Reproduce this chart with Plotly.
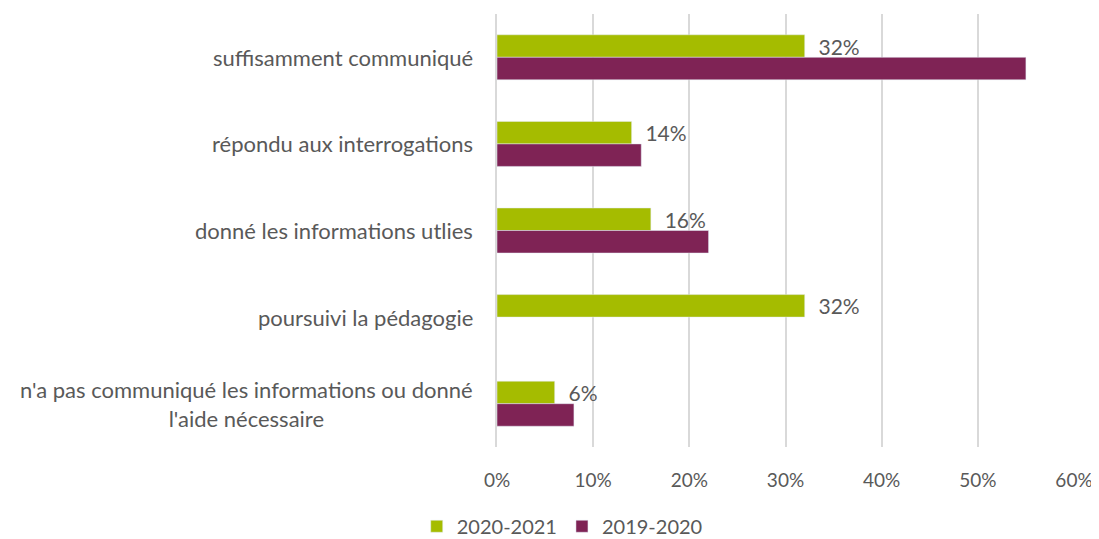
import plotly.graph_objects as go

categories = [
    "suffisamment communiqué",
    "répondu aux interrogations",
    "donné les informations utlies",
    "poursuivi la pédagogie",
    "n'a pas communiqué les informations ou donné<br>l'aide nécessaire",
]
values_2021 = [32, 14, 16, 32, 6]
values_2020 = [55, 15, 22, None, 8]
tick_vals = [0, 10, 20, 30, 40, 50, 60]
tick_text = ["0%", "10%", "20%", "30%", "40%", "50%", "60%"]

GREEN = "#A5BC00"
PURPLE = "#7F2355"
TXT = "#595959"
FONT = "Lato"
FS = 22

fig = go.Figure()
fig.add_trace(go.Bar(
    y=categories, x=values_2021, orientation="h", name="2020-2021",
    marker_color=GREEN,
    text=[f"\u00a0\u00a0{v}%" for v in values_2021], textposition="outside",
    constraintext="none",
    textfont=dict(color=TXT, size=21, family=FONT), cliponaxis=False,
))
fig.add_trace(go.Bar(
    y=categories, x=values_2020, orientation="h", name="2019-2020",
    marker_color=PURPLE,
))

for c in categories:
    fig.add_annotation(
        x=0, xref="x", xanchor="right", xshift=-22,
        y=c, yref="y", yanchor="middle",
        text=c, showarrow=False, align="center",
        font=dict(color=TXT, size=FS, family=FONT),
    )

fig.update_layout(
    width=1091, height=531,
    margin=dict(l=489, r=25, t=6, b=92, autoexpand=False),
    plot_bgcolor="white", paper_bgcolor="white",
    barmode="group", bargap=0.48, bargroupgap=0,
    font=dict(family=FONT, color=TXT, size=FS),
    showlegend=True,
    legend=dict(orientation="h", xref="container", yref="container",
                x=0.508, xanchor="center", y=0.024, yanchor="middle",
                font=dict(size=20, color=TXT, family=FONT),
                itemwidth=30, tracegroupgap=0),
)
fig.update_xaxes(
    range=[0, 60], tickvals=tick_vals, ticktext=tick_text,
    showgrid=True, gridcolor="#D9D9D9", gridwidth=1.5,
    zeroline=False, showline=False, ticklabelstandoff=20, automargin=False,
    tickfont=dict(size=19, color=TXT, family=FONT),
)
fig.update_yaxes(
    autorange="reversed", showticklabels=False, showgrid=False, automargin=False,
    showline=True, linecolor="#D9D9D9", linewidth=1.5, zeroline=False,
)

fig.write_html("out.html")
